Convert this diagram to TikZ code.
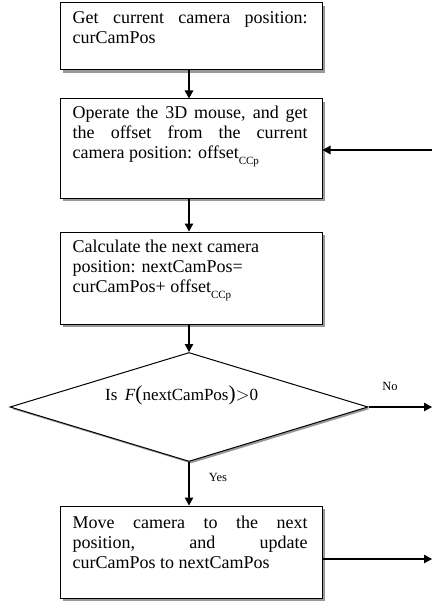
\documentclass[tikz,border=0pt]{standalone}
\usepackage{fontspec}
\setmainfont{Liberation Serif}
\usetikzlibrary{arrows.meta,shadows,shapes.geometric}

% small lowered text for the "CCp" index
\newcommand{\idx}[1]{\raisebox{-0.3em}{\fontsize{11}{11}\selectfont #1}}
% one fully justified line of box text
\newcommand{\jline}[1]{\makebox[235pt][s]{#1}}

\begin{document}
\begin{tikzpicture}[x=1pt,y=-1pt,
  procbox/.style={draw=black, line width=1pt, fill=white,
    minimum width=262pt, inner sep=0pt,
    drop shadow={shadow xshift=2.6pt, shadow yshift=-2.6pt, fill=black!40, opacity=1}},
  boxtext/.style={anchor=north west, inner sep=0pt, align=left,
    font=\fontsize{18}{20}\selectfont},
  decision/.style={diamond, draw=black, line width=1pt, fill=white, inner sep=0pt,
    minimum width=358pt, minimum height=109pt, aspect=3.28,
    drop shadow={shadow xshift=2pt, shadow yshift=-2pt, fill=black!40, opacity=1}},
  arr/.style={draw=black, line width=1.1pt, -{Triangle[length=8pt,width=8.5pt]}},
  lbl/.style={inner sep=0pt, font=\fontsize{12.5}{13}\selectfont}
]
\useasboundingbox (0,0) rectangle (432,604);

% process boxes
\node[procbox, minimum height=67pt] (b1) at (191,36.5) {};
\node[procbox, minimum height=99pt] (b2) at (191,148.5) {};
\node[procbox, minimum height=92pt] (b3) at (191,278) {};
\node[procbox, minimum height=92pt] (b4) at (191,552) {};

% decision
\node[decision] (dec) at (189,407) {};

% box texts
\node[boxtext] (t1) at ([xshift=13pt,yshift=-8.5pt]b1.north west)
  {\jline{Get current camera position:}\\curCamPos};
\node[boxtext] (t2) at ([xshift=13pt,yshift=-7.5pt]b2.north west)
  {\jline{Operate the 3D mouse, and get}\\\jline{the offset from the current}\\camera position: offset\idx{CCp}};
\node[boxtext] (t3) at ([xshift=13pt,yshift=-8.5pt]b3.north west)
  {Calculate the next camera\\position: nextCamPos=\\curCamPos+ offset\idx{CCp}};
\node[boxtext] (t4) at ([xshift=13pt,yshift=-10pt]b4.north west)
  {\jline{Move camera to the next}\\\jline{position, and update}\\curCamPos to nextCamPos};

% condition text, set to its printed width
\node[inner sep=0pt, anchor=base west] (cond) at (105,400)
  {\resizebox{153pt}{!}{\fontsize{16}{18}\selectfont Is\hspace{7pt}\textit{F}{\fontsize{20}{20}\selectfont(}nextCamPos{\fontsize{20}{20}\selectfont)}$>$0}};

% free ends on the right margin
\coordinate (r1) at (432,150);
\coordinate (r2) at (432,407);
\coordinate (r3) at (432,559);

% connectors
\draw[arr] (b1.south -| dec.north) -- (b2.north -| dec.north);
\draw[arr] (b2.south -| dec.north) -- (b3.north -| dec.north);
\draw[arr] (b3.south -| dec.north) -- (dec.north);
\draw[arr] (dec.south) -- (b4.north -| dec.south);
\draw[arr] (r1) -- (b2.east |- r1);
\draw[arr] (dec.east) -- (dec.east -| r2);
\draw[arr] (b4.east |- r3) -- (r3);

% branch labels
\node[lbl] (no) at (390,386) {No};
\node[lbl] (yes) at (218,477) {Yes};
\end{tikzpicture}
\end{document}
